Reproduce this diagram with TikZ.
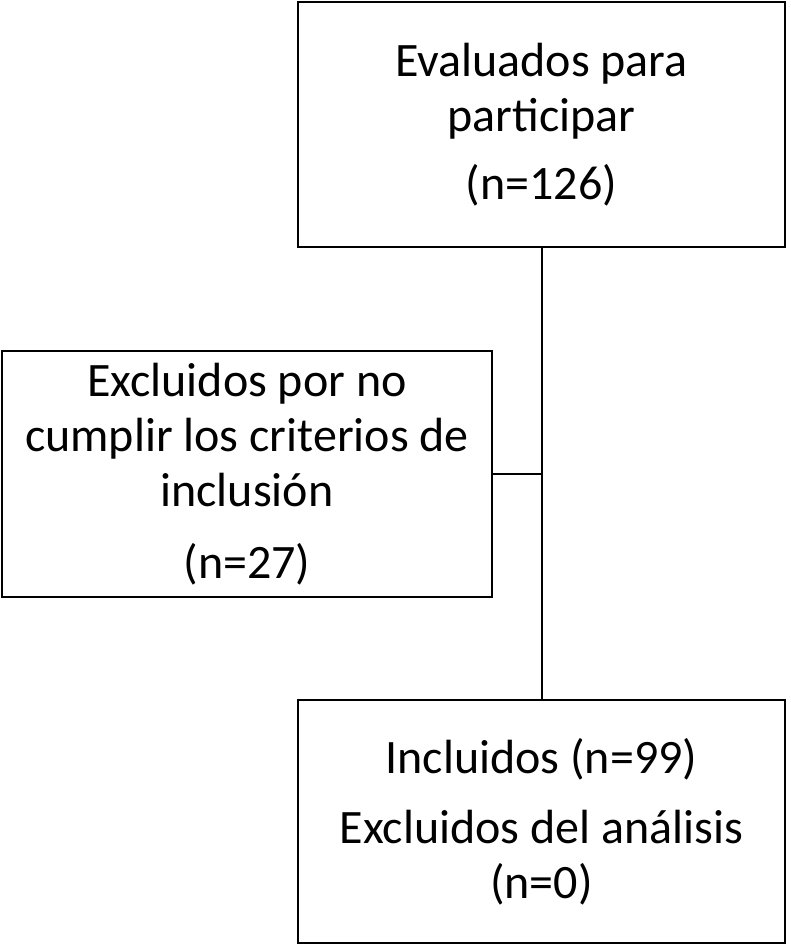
\documentclass[tikz,border=0pt]{standalone}
\usepackage{fontspec}
\setmainfont{Carlito}
\begin{document}
\begin{tikzpicture}[x=1pt,y=-1pt,
  box/.style={draw,line width=2pt,minimum width=#1,align=center,inner sep=0pt,font=\fontsize{48}{55}\selectfont},
  conn/.style={line width=2pt}]
\useasboundingbox (0,0) rectangle (791,946);
\node[box=487pt,minimum height=245pt] (top) at (541.5,124.5) {Evaluados para\\participar\\[13pt](n=126)};
\node[box=490pt,minimum height=246pt] (left) at (247,474) {Excluidos por no\\cumplir los criterios de\\inclusión\\[17pt](n=27)};
\node[box=487pt,minimum height=243pt] (bot) at (541.5,821.5) {Incluidos (n=99)\\[15pt]Excluidos del análisis\\(n=0)};
\coordinate (j) at (top.south |- left.east);
\draw[conn] (top.south) -- (bot.north);
\draw[conn] (left.east) -- (j);
\end{tikzpicture}
\end{document}
